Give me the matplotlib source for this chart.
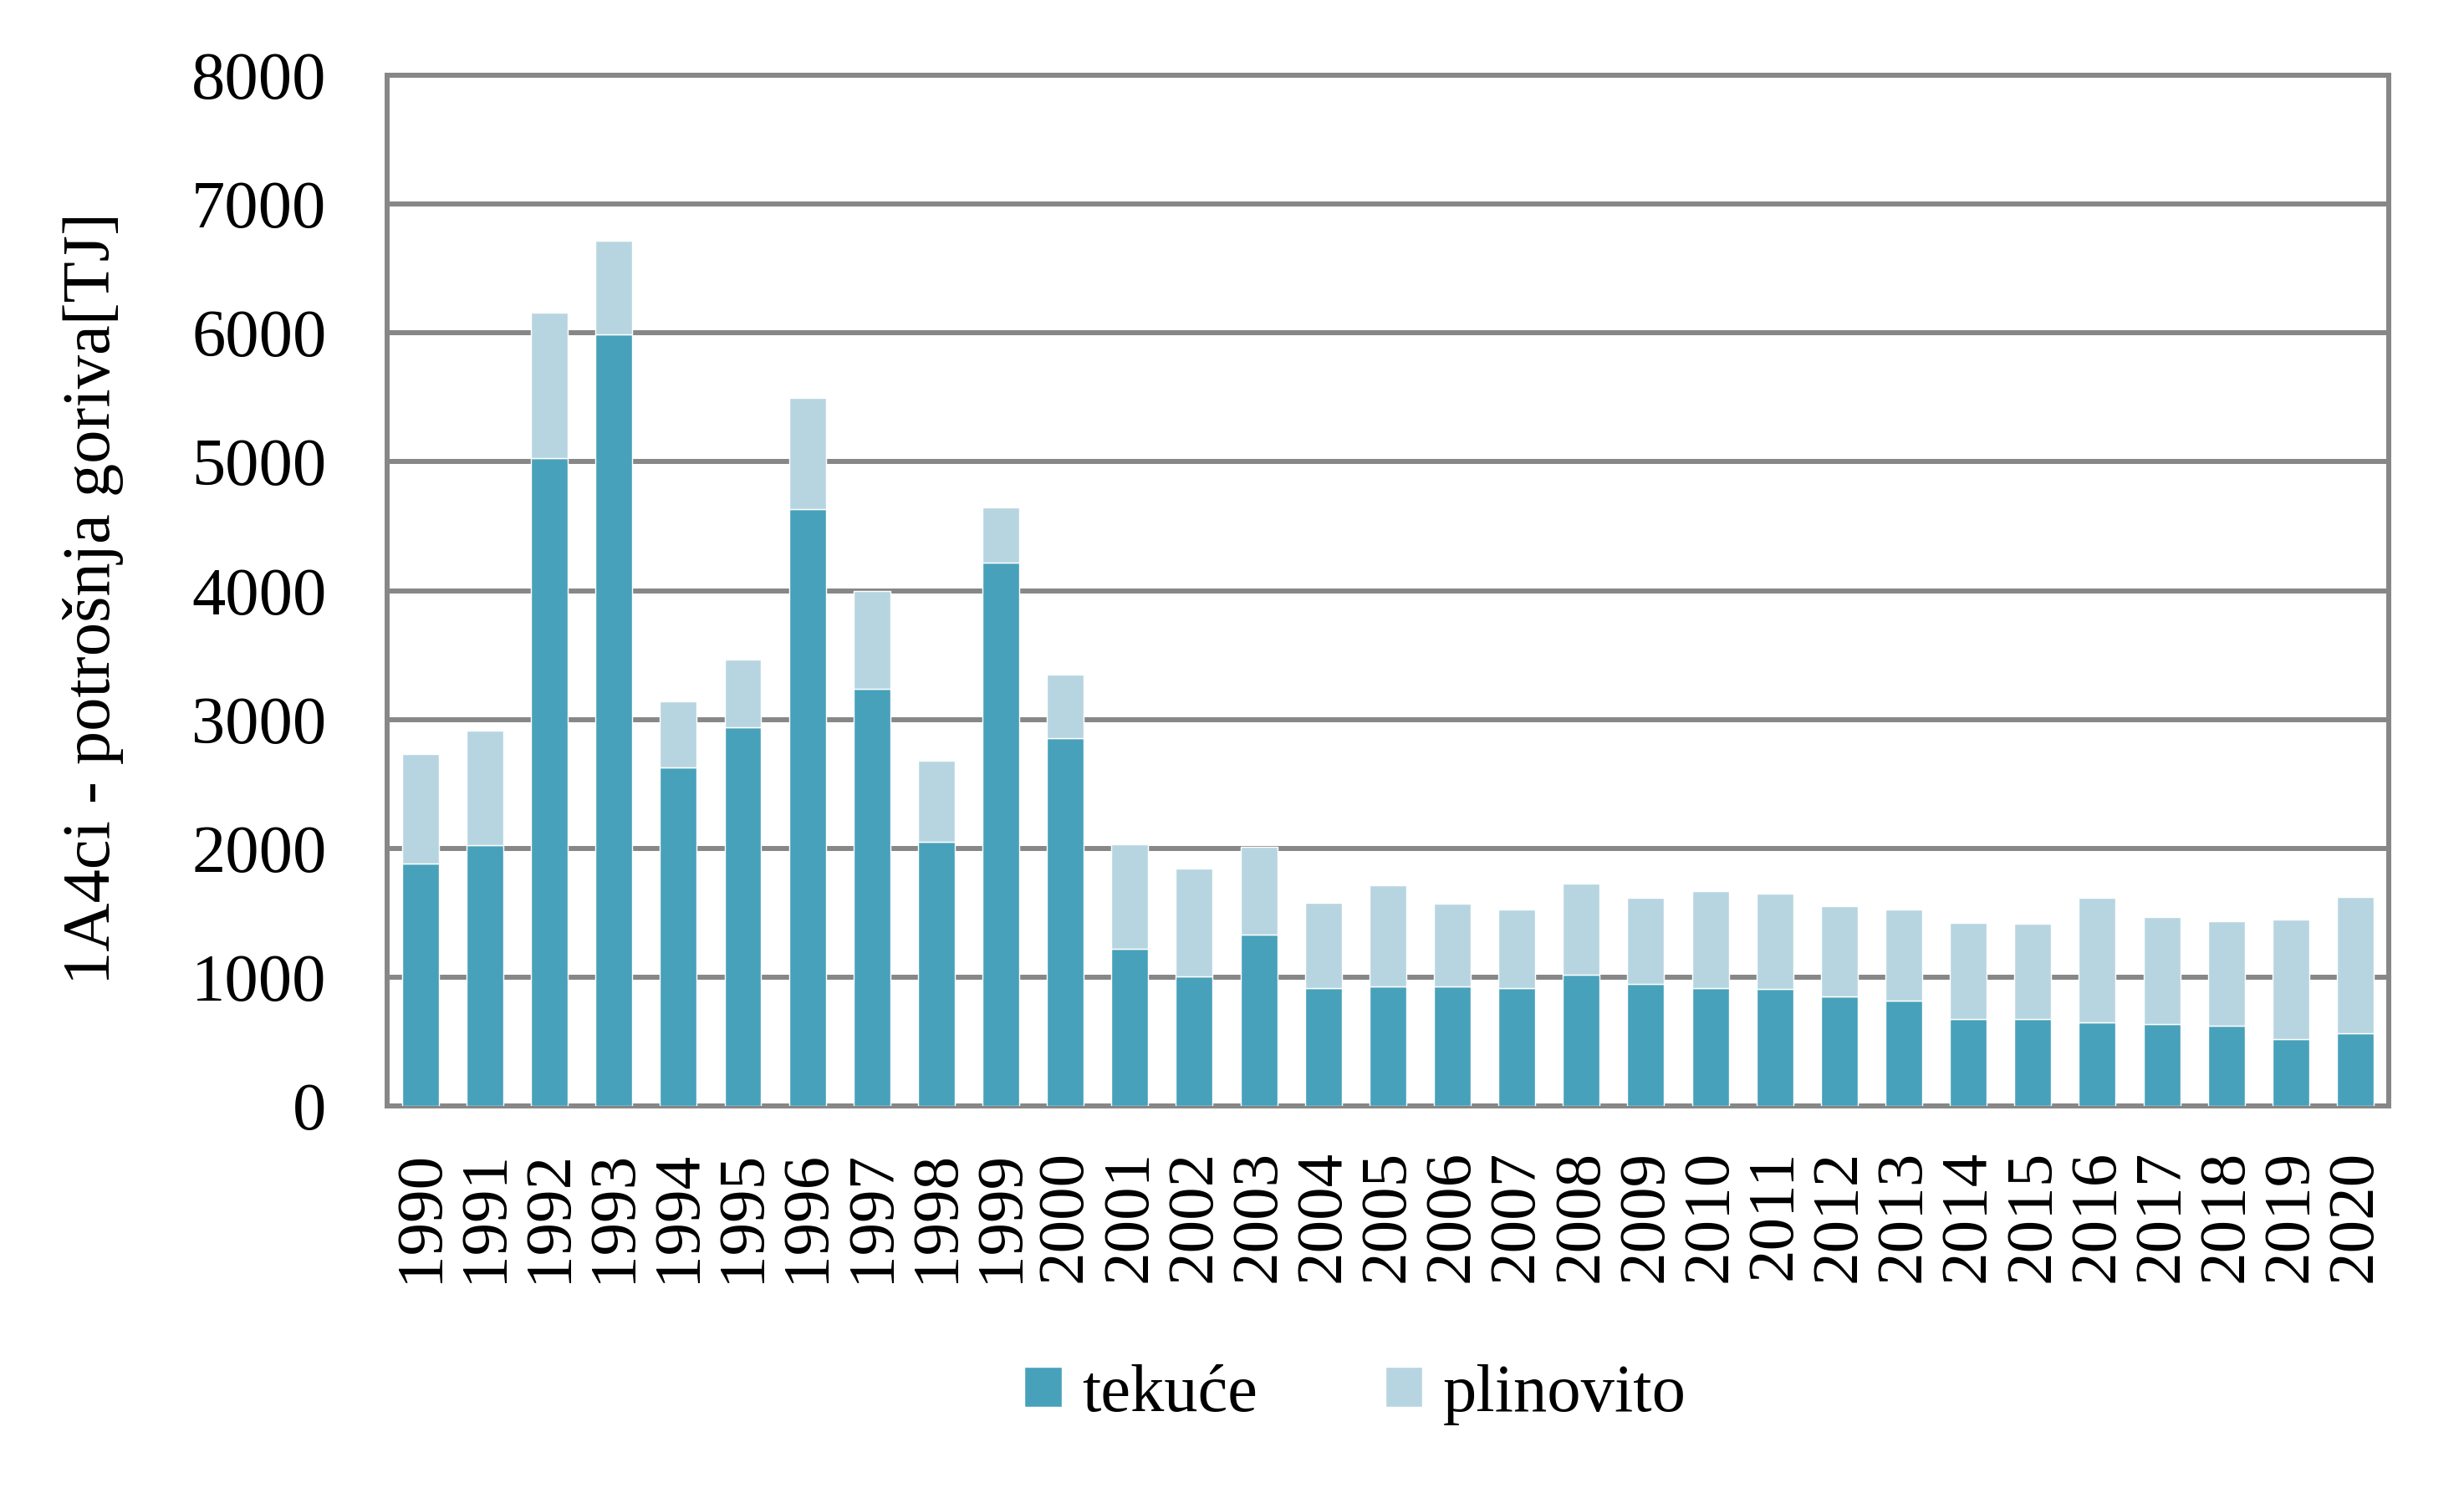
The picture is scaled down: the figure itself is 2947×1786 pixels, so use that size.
import matplotlib
matplotlib.use("Agg")
import matplotlib.pyplot as plt
from matplotlib.patches import Patch

years = [str(y) for y in range(1990, 2021)]
tekuce = [1880, 2023, 5029, 5990, 2629, 2937, 4636, 3240, 2050, 4217, 2857,
          1220, 1008, 1329, 915, 926, 926, 915, 1019, 947, 915, 912,
          848, 817, 672, 672, 648, 635, 622, 518, 568]
ukupno = [2735, 2916, 6155, 6718, 3139, 3468, 5497, 3999, 2682, 4647, 3351,
          2030, 1843, 2011, 1576, 1714, 1570, 1525, 1724, 1615, 1668, 1650,
          1552, 1525, 1421, 1415, 1616, 1467, 1434, 1447, 1623]
plinovito = [t - k for t, k in zip(ukupno, tekuce)]
series_names = ["tekuće", "plinovito"]
yticks = [0, 1000, 2000, 3000, 4000, 5000, 6000, 7000, 8000]
ylabel = "1A4ci - potrošnja goriva[TJ]"

c_dark = "#48A1BA"
c_light = "#B7D5E0"
grid_c = "#878787"

plt.rcParams['font.family'] = ['Liberation Serif', 'DejaVu Serif']

fig = plt.figure(figsize=(29.47, 17.86), dpi=100)
ax = fig.add_axes([0.157, 0.2592, 0.9695 - 0.157, 0.9496 - 0.2592])

x = list(range(len(years)))
w = 0.57
ax.bar(x, tekuce, width=w, color=c_dark, edgecolor="white", linewidth=1.0, zorder=3)
ax.bar(x, plinovito, width=w, bottom=tekuce, color=c_light, edgecolor="white", linewidth=1.0, zorder=3)

ax.set_xlim(-0.52, len(years) - 0.48)
ax.set_ylim(0, 8000)
ax.set_yticks(yticks)
ax.set_yticklabels([str(v) for v in yticks], fontsize=58)
ax.set_xticks(x)
ax.set_xticklabels(years, rotation=90, fontsize=57)
ax.tick_params(axis='y', length=0, pad=52)
ax.tick_params(axis='x', length=0, pad=38)

ax.yaxis.grid(True, color=grid_c, linewidth=4.3, zorder=1)
ax.set_axisbelow(True)
for s in ax.spines.values():
    s.set_color(grid_c)
    s.set_linewidth(4.3)

fig.text(0.038, 0.599, ylabel, rotation=90, ha='center', va='center', fontsize=58)

handles = [Patch(facecolor=c_dark, edgecolor="white"), Patch(facecolor=c_light, edgecolor="white")]
fig.legend(handles, series_names, loc='center', bbox_to_anchor=(0.55, 0.066),
           ncol=2, frameon=False, fontsize=58, handlelength=0.55, handleheight=0.55,
           handletextpad=0.3, columnspacing=1.9)

fig.savefig("out.png", dpi=100)
